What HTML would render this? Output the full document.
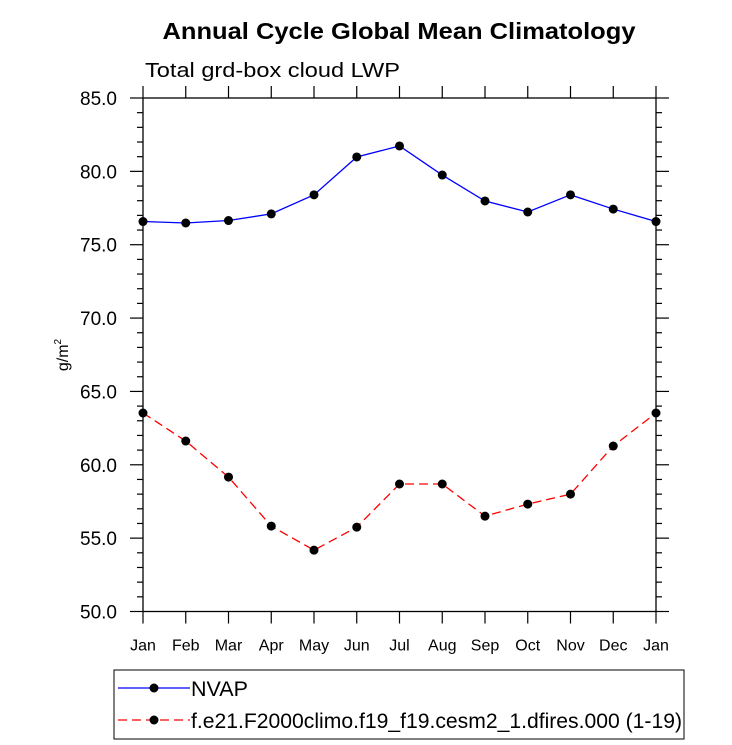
<!DOCTYPE html>
<html><head><meta charset="utf-8"><style>
body{margin:0;background:#fff}
svg{display:block;font-family:"Liberation Sans",Arial,sans-serif}
</style></head><body>
<svg id="chart" width="732" height="745" viewBox="0 0 732 745">
<rect width="732" height="745" fill="#fff"/>
<text x="399" y="39" text-anchor="middle" font-size="23" font-weight="bold" textLength="473" lengthAdjust="spacingAndGlyphs">Annual Cycle Global Mean Climatology</text>
<text x="145" y="77" font-size="20" textLength="255" lengthAdjust="spacingAndGlyphs">Total grd-box cloud LWP</text>
<text transform="translate(68,355) rotate(-90)" text-anchor="middle" font-size="16">g/m<tspan font-size="10" dy="-7">2</tspan></text>
<g id="axes"></g>
<g id="series"></g>
<g id="legend"></g>
</svg>
<script>
const months=["Jan","Feb","Mar","Apr","May","Jun","Jul","Aug","Sep","Oct","Nov","Dec","Jan"];
const yTicks=[50,55,60,65,70,75,80,85];
const nvap=[76.58,76.48,76.65,77.1,78.4,80.98,81.73,79.75,77.98,77.23,78.4,77.43,76.58];
const model=[63.53,61.62,59.16,55.82,54.18,55.75,58.69,58.69,56.5,57.32,58.0,61.28,63.53];
const seriesNames=["NVAP","f.e21.F2000climo.f19_f19.cesm2_1.dfires.000 (1-19)"];

const L=143,R=656,T=98,B=611.5,Y0=50,Y1=85;
const NS="http://www.w3.org/2000/svg";
const xS=i=>L+(R-L)*i/(months.length-1);
const yS=v=>B-(v-Y0)/(Y1-Y0)*(B-T);
function mk(tag,attrs,parent){const e=document.createElementNS(NS,tag);for(const k in attrs)e.setAttribute(k,attrs[k]);parent.appendChild(e);return e;}
const ax=document.getElementById('axes');
let frame=mk('rect',{x:L,y:T,width:R-L,height:B-T,fill:'none',stroke:'#000','stroke-width':1.3},ax);


months.forEach((m,i)=>{
  const x=xS(i);
  let t=mk('line',{x1:x,x2:x,y1:B,y2:B+12,stroke:'#000','stroke-width':1.2},ax);
  
  
  let t2=mk('line',{x1:x,x2:x,y1:T,y2:T-12,stroke:'#000','stroke-width':1.2},ax);
  
  
  let lb=mk('text',{x:x,y:B+39,'text-anchor':'middle','font-size':16},ax);
  lb.textContent=m;
  
  
});
for(let v=Y0;v<=Y1;v++){
  const y=yS(v),maj=(v%5===0);
  const len=maj?13:6;
  let t=mk('line',{x1:L-len,x2:L,y1:y,y2:y,stroke:'#000','stroke-width':1.2},ax);
  
  
  let t2=mk('line',{x1:R,x2:R+len,y1:y,y2:y,stroke:'#000','stroke-width':1.2},ax);
  
  
}
yTicks.forEach(v=>{
  let lb=mk('text',{x:117,y:yS(v)+7,'text-anchor':'end','font-size':19},ax);
  lb.textContent=v.toFixed(1);
  
  
});
const sg=document.getElementById('series');
function drawSeries(vals,color,dash,name){
  const g=mk('g',{},sg);
  
  
  const a={points:vals.map((v,i)=>xS(i)+','+yS(v)).join(' '),fill:'none',stroke:color,'stroke-width':1.3};
  if(dash)a['stroke-dasharray']=dash;
  const pl=mk('polyline',a,g);
  
  
  vals.forEach((v,i)=>{
    const c=mk('circle',{cx:xS(i),cy:yS(v),r:4.5,fill:'#000'},g);
    
    
  });
}
drawSeries(nvap,'#0000ff',null,'nvap-series');
drawSeries(model,'#ff0000','9,5','model-series');
const lg=document.getElementById('legend');
const box=mk('rect',{x:114,y:670,width:570,height:69,fill:'#fff',stroke:'#000','stroke-width':1},lg);


const legLens=[57,491];
[['#0000ff',null,688],['#ff0000','9,5',720]].forEach((s,k)=>{
  const y=s[2];
  const a={x1:118,x2:190,y1:y,y2:y,stroke:s[0],'stroke-width':1.3};
  if(s[1])a['stroke-dasharray']=s[1];
  const ln=mk('line',a,lg);
  
  
  const c=mk('circle',{cx:154,cy:y,r:4.5,fill:'#000'},lg);
  
  
  const t=mk('text',{x:191,y:y+8,'font-size':21,textLength:legLens[k],lengthAdjust:'spacingAndGlyphs'},lg);
  t.textContent=seriesNames[k];
  
  
});
</script>
</body></html>
